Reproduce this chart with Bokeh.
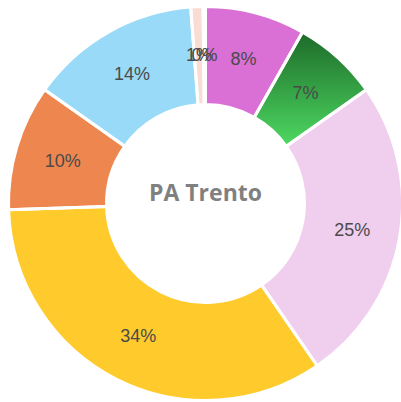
import math
from bokeh.plotting import figure
from bokeh.models import Range1d, ColumnDataSource
from bokeh.core.properties import value
from bokeh.embed import file_html
from bokeh.resources import INLINE

# ---- data ----
categories = ["A", "B", "C", "D", "E", "F", "G", "H"]
values = [8.2, 7.0, 25.2, 34.1, 10.3, 14.0, 1.0, 0.2]
labels = ["8%", "7%", "25%", "34%", "10%", "14%", "1%", "0%"]
colors = ["#DA70D6", "#3DB552", "#F0CEEE", "#FFCA2B", "#EE8650", "#98DAF7", "#F9DCD3", "#E8E8E8"]
title_text = "PA Trento"

# vertical gradient for the green slice (top dark -> bottom light)
green_top = (0x1C, 0x6A, 0x28)
green_bottom = (0x4E, 0xD8, 0x62)

R_OUT = 197
R_IN = 99
R_LAB = 149

p = figure(width=401, height=402, output_backend="svg", toolbar_location=None,
           x_range=Range1d(-205, 196), y_range=Range1d(-199, 203),
           min_border=0, outline_line_color=None)
p.axis.visible = False
p.grid.visible = False
p.background_fill_color = "white"
p.border_fill_color = "white"

total = sum(values)
starts, ends, mids = [], [], []
c = 0.0
for v in values:
    s = math.pi / 2 - 2 * math.pi * c / total
    c += v
    e = math.pi / 2 - 2 * math.pi * c / total
    starts.append(s)
    ends.append(e)
    mids.append((s + e) / 2)

src = ColumnDataSource(dict(start=starts, end=ends, color=colors,
                            x=[0] * len(values), y=[0] * len(values)))
p.annular_wedge(x="x", y="y", inner_radius=R_IN, outer_radius=R_OUT,
                start_angle="start", end_angle="end", direction="clock",
                fill_color="color", line_color=None, source=src)

# gradient strips for green slice: sector polygon clipped to horizontal bands
gi = 1
a0, a1 = starts[gi], ends[gi]
n = 60
poly = [(R_OUT * math.cos(a0 + (a1 - a0) * i / n), R_OUT * math.sin(a0 + (a1 - a0) * i / n)) for i in range(n + 1)]
poly += [(R_IN * math.cos(a1 + (a0 - a1) * i / n), R_IN * math.sin(a1 + (a0 - a1) * i / n)) for i in range(n + 1)]


def clip(pts, yv, keep_above):
    out = []
    m = len(pts)
    for i in range(m):
        P = pts[i]
        Q = pts[(i + 1) % m]
        pin = (P[1] >= yv) if keep_above else (P[1] <= yv)
        qin = (Q[1] >= yv) if keep_above else (Q[1] <= yv)
        if pin:
            out.append(P)
        if pin != qin:
            t = (yv - P[1]) / (Q[1] - P[1])
            out.append((P[0] + t * (Q[0] - P[0]), yv))
    return out


ytop = max(q[1] for q in poly)
ybot = min(q[1] for q in poly)
nb = 50
xs_list, ys_list, cols = [], [], []
for k in range(nb):
    y_hi = ytop - (ytop - ybot) * k / nb + 0.5
    y_lo = ytop - (ytop - ybot) * (k + 1) / nb - 0.5
    part = clip(clip(poly, y_hi, False), y_lo, True)
    if len(part) < 3:
        continue
    t = (k + 0.5) / nb
    col = tuple(int(round(green_top[j] + (green_bottom[j] - green_top[j]) * t)) for j in range(3))
    xs_list.append([q[0] for q in part])
    ys_list.append([q[1] for q in part])
    cols.append("#%02x%02x%02x" % col)
p.patches(xs=xs_list, ys=ys_list, fill_color=cols, line_color=None)

# white separators
p.annular_wedge(x="x", y="y", inner_radius=R_IN, outer_radius=R_OUT,
                start_angle="start", end_angle="end", direction="clock",
                fill_color=None, line_color="white", line_width=3, source=src)

# labels
lx = [R_LAB * math.cos(m) for m in mids]
ly = [R_LAB * math.sin(m) for m in mids]
p.text(x=lx, y=ly, text=labels, text_align="center", text_baseline="middle",
       text_font=value("Liberation Sans"), text_font_size="18px", text_color="#4a4a4a")

p.text(x=[0], y=[12], text=[title_text], text_align="center", text_baseline="middle",
       text_font=value("Open Sans"), text_font_size="23px", text_font_style="bold",
       text_color="#808080")

open("out.html", "w").write(file_html(p, INLINE))
